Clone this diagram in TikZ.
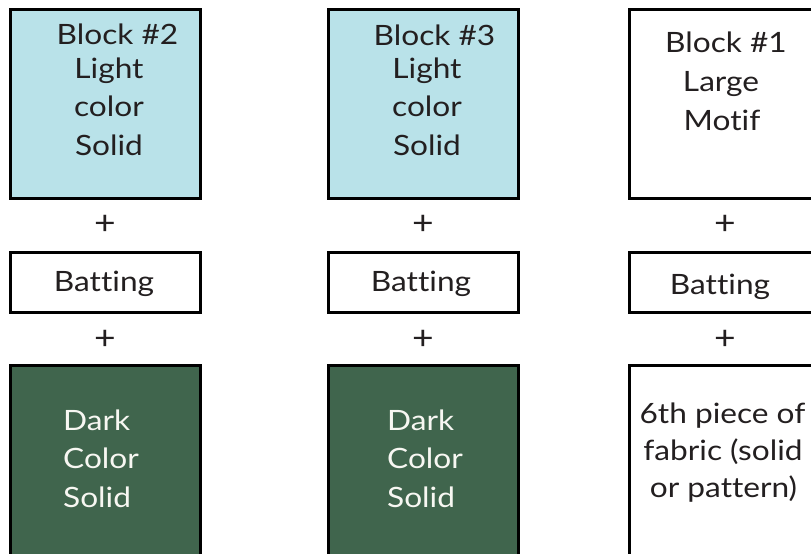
\documentclass[tikz,border=0pt]{standalone}
\usepackage{fontspec}
\setmainfont[Ligatures={NoCommon}, FakeStretch=1.13]{Lato}
\definecolor{ink}{HTML}{231F20}
\definecolor{lightblue}{HTML}{B9E2E9}
\definecolor{darkgreen}{HTML}{40654D}
\definecolor{paper}{HTML}{F7F7F2}
\newcommand{\dfont}{\fontsize{28}{36}\selectfont}
\newcommand{\pfont}{\fontsize{33}{36}\selectfont}
\tikzset{
  box/.style={draw=black, line width=2.6pt, inner sep=0pt, outer sep=0pt},
  lightbox/.style={box, fill=lightblue, minimum width=190.5pt, minimum height=189.5pt},
  plainbox/.style={box, fill=white, minimum width=190.5pt, minimum height=189.5pt},
  darkbox/.style={box, fill=darkgreen, minimum width=190.5pt, minimum height=236pt},
  lowbox/.style={box, fill=white, minimum width=190.5pt, minimum height=236pt},
  batbox/.style={box, fill=white, minimum width=190.5pt, minimum height=60.5pt},
  txt/.style={font=\dfont, text=ink, inner sep=0pt, anchor=base},
  wtxt/.style={txt, text=paper, anchor=base west},
  plus/.style={font=\pfont, text=ink, inner sep=0pt}
}
\begin{document}
\begin{tikzpicture}[x=1pt, y=-1pt]
\clip (0,0) rectangle (811,554);
\fill[white] (0,0) rectangle (811,554);
% top row
\node[lightbox] (b2) at (105.5,104) {};
\node[lightbox] (b3) at (423.5,104) {};
\node[plainbox] (b1) at (724.5,104) {};
\node[txt] (b2t) at (117.5,44) {Block \#2};
\node[txt] (b2a) at (109,78) {Light};
\node[txt] (b2b) at (109,116) {color};
\node[txt] (b2c) at (109,155) {Solid};
\node[txt] (b3t) at (434.5,45) {Block \#3};
\node[txt] (b3a) at (427,78) {Light};
\node[txt] (b3b) at (427,116) {color};
\node[txt] (b3c) at (427,155) {Solid};
\node[txt] (b1t) at (726,52) {Block \#1};
\node[txt] (b1a) at (721,91) {Large};
\node[txt] (b1b) at (722,130) {Motif};
% plus signs
\node[plus] (p1) at (105,225) {+};
\node[plus] (p2) at (423,225) {+};
\node[plus] (p3) at (725,225) {+};
% batting
\node[batbox] (bt1) at (105.5,282.5) {};
\node[batbox] (bt2) at (423.5,282.5) {};
\node[batbox] (bt3) at (724.5,282.5) {};
\node[txt] (bt1t) at (104,291) {Batting};
\node[txt] (bt2t) at (421,291) {Batting};
\node[txt] (bt3t) at (720,294) {Batting};
% plus signs
\node[plus] (q1) at (105,340) {+};
\node[plus] (q2) at (423,340) {+};
\node[plus] (q3) at (725,340) {+};
% bottom row
\node[darkbox] (d1) at (105.5,483.3) {};
\node[darkbox] (d2) at (423.5,483.3) {};
\node[lowbox] (d3) at (724.5,483.3) {};
\node[wtxt] (d1a) at (63,430) {Dark};
\node[wtxt] (d1b) at (63,468) {Color};
\node[wtxt] (d1c) at (63,507) {Solid};
\node[wtxt] (d2a) at (387,430) {Dark};
\node[wtxt] (d2b) at (387,468) {Color};
\node[wtxt] (d2c) at (387,507) {Solid};
\node[txt] (d3a) at (722.5,423) {6th piece of};
\node[txt] (d3b) at (723,460) {fabric (solid};
\node[txt] (d3c) at (723.5,497) {or pattern)};
\end{tikzpicture}
\end{document}
